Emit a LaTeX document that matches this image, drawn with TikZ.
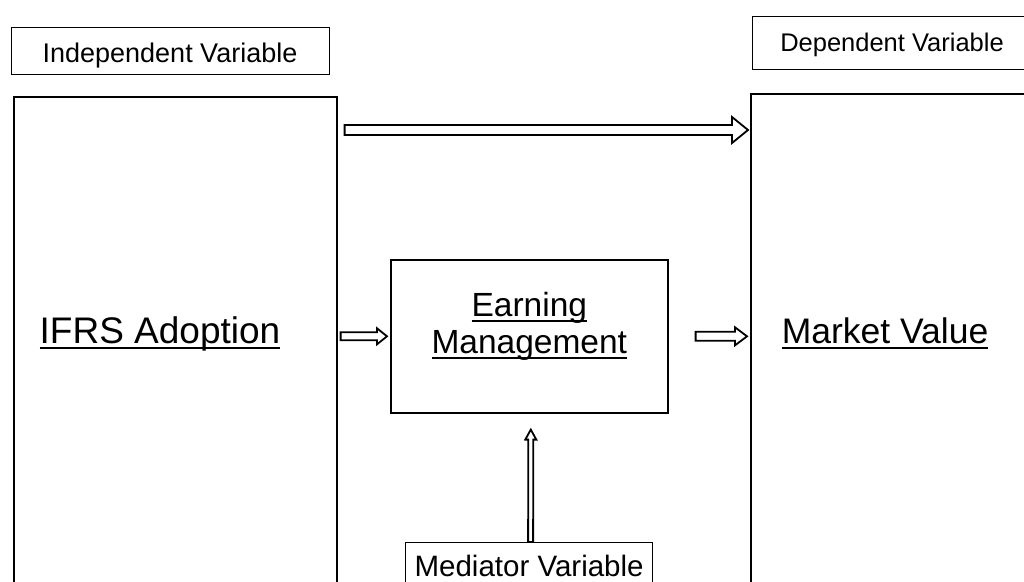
\documentclass[tikz,border=0pt]{standalone}
\usepackage{fontspec}
\setmainfont{Liberation Sans}
\usetikzlibrary{positioning,calc}

% thick underline as the reference prints it
\newcommand{\undl}[1]{\setbox0\hbox{#1}\rlap{\rule[-6pt]{\wd0}{2.4pt}}\box0}

\tikzset{
    tagbox/.style={draw, line width=1pt, inner sep=0pt, anchor=north west},
    varbox/.style={draw, line width=1.6pt, inner sep=0pt, anchor=north west},
    % hollow block arrow: shaft half width, head half width, head length
    hollow/.style n args={3}{draw, fill=white, line width=1.8pt, line join=miter,
        to path={let \p0=(\tikztostart), \p1=($(\tikztotarget)-(\tikztostart)$),
            \n1={atan2(\y1,\x1)}, \n2={veclen(\x1,\y1)} in
            ([shift={(\x0,\y0)},rotate=\n1] 0pt,#1)
            -- ([shift={(\x0,\y0)},rotate=\n1] \n2*1pt-#3,#1)
            -- ([shift={(\x0,\y0)},rotate=\n1] \n2*1pt-#3,#2)
            -- ([shift={(\x0,\y0)},rotate=\n1] \n2*1pt,0pt)
            -- ([shift={(\x0,\y0)},rotate=\n1] \n2*1pt-#3,-#2)
            -- ([shift={(\x0,\y0)},rotate=\n1] \n2*1pt-#3,-#1)
            -- ([shift={(\x0,\y0)},rotate=\n1] 0pt,-#1) -- cycle}}
}

\begin{document}
\begin{tikzpicture}[x=1pt,y=-1pt]
    \useasboundingbox (0,0) rectangle (1024,581);
    \clip (0,0) rectangle (1024,581);

    % Labels on top:
    \node[tagbox, minimum width=318, minimum height=47] (indep) at (11,27) {};
    \node[anchor=base, font=\fontsize{27}{30}\selectfont] (indeptext) at (170,62) {Independent Variable};
    \node[tagbox, minimum width=290, minimum height=53] (dep) at (752,16) {};
    \node[anchor=base, font=\fontsize{25.5}{30}\selectfont] (deptext) at (892,51) {Dependent Variable};

    % Main boxes:
    \node[varbox, minimum width=323, minimum height=530] (ifrsbox) at (13,96) {};
    \node[anchor=base, font=\fontsize{37}{40}\selectfont] (ifrs) at (160,343) {\undl{IFRS Adoption}};
    \node[varbox, minimum width=300, minimum height=530] (marketbox) at (750,93) {};
    \node[anchor=base, font=\fontsize{35.5}{40}\selectfont] (market) at (885,343) {\undl{Market Value}};
    \node[varbox, minimum width=277, minimum height=153] (em) at (390,259) {};
    \node[anchor=base, font=\fontsize{33.5}{35}\selectfont] (earning) at (em.north |- 0,316) {\undl{Earning}};
    \node[anchor=base, font=\fontsize{33.5}{35}\selectfont] (management) at (em.north |- 0,353) {\undl{Management}};
    \node[tagbox, line width=1.2pt, minimum width=247, minimum height=80] (medbox) at (405,542) {};
    \node[anchor=base, font=\fontsize{29.5}{32}\selectfont] (mediator) at (medbox.north |- 0,576) {Mediator Variable};

    % Arrows:
    \draw[hollow={5pt}{13pt}{16pt}] ([xshift=7pt]ifrsbox.east |- 0,130) to ([xshift=-2pt]marketbox.west |- 0,130);
    \draw[hollow={4pt}{8pt}{10pt}] ([xshift=3pt]ifrsbox.east |- em.west) to ([xshift=-3pt]em.west);
    \draw[hollow={4.5pt}{9pt}{12pt}] ([xshift=27pt]em.east) to ([xshift=-3pt]marketbox.west |- em.east);
    \draw[hollow={2.5pt}{5.5pt}{10pt}] ([xshift=1.5pt]medbox.north) to ([shift={(1.5pt,-16pt)}]em.south);
\end{tikzpicture}
\end{document}
